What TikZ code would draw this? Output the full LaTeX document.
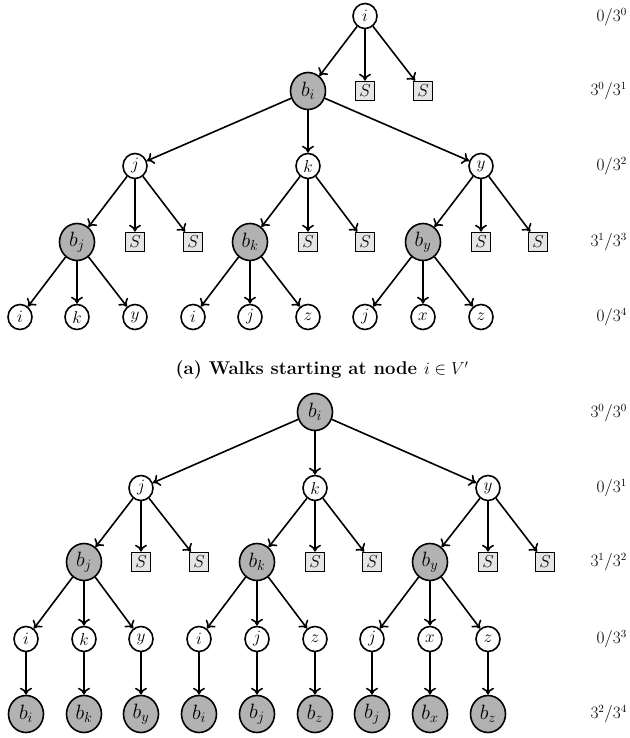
\documentclass[tikz,border=0pt]{standalone}
\usetikzlibrary{shapes.geometric,arrows.meta}
\begin{document}
\begin{tikzpicture}[x=1pt,y=-1pt,
  wn/.style={ellipse,draw,line width=1.6pt,fill=white,minimum width=24pt,minimum height=25pt,inner sep=0pt,font=\fontsize{17}{17}\selectfont},
  gn/.style={ellipse,draw,line width=1.6pt,fill=black!30,minimum width=35pt,minimum height=37pt,inner sep=0pt,font=\fontsize{20}{20}\selectfont},
  sn/.style={rectangle,draw,line width=1.6pt,fill=black!10,minimum size=19pt,inner sep=0pt,font=\fontsize{17}{17}\selectfont},
  lab/.style={anchor=east,inner sep=0pt,font=\fontsize{16}{16}\selectfont},
  arr/.style={line width=1.6pt,-{Computer Modern Rightarrow[length=7pt,width=12pt]}}]
\useasboundingbox (0,0) rectangle (629,738);
% ---------- tree (a) ----------
\node[wn] (ai) at (365,16) {$i$};
\node[gn] (abi) at (308,91) {$b_i$};
\node[sn] (aS1) at (365,91) {$S$};
\node[sn] (aS2) at (423,91) {$S$};
\node[wn] (aj) at (135,166) {$j$};
\node[wn] (ak) at (308,166) {$k$};
\node[wn] (ay) at (481,166) {$y$};
\node[gn] (abj) at (77,242) {$b_j$};
\node[sn] (aSj1) at (135,242) {$S$};
\node[sn] (aSj2) at (193,242) {$S$};
\node[gn] (abk) at (250,242) {$b_k$};
\node[sn] (aSk1) at (308,242) {$S$};
\node[sn] (aSk2) at (365,242) {$S$};
\node[gn] (aby) at (423,242) {$b_y$};
\node[sn] (aSy1) at (481,242) {$S$};
\node[sn] (aSy2) at (538,242) {$S$};
\node[wn] (al1) at (20,317) {$i$};
\node[wn] (al2) at (77,317) {$k$};
\node[wn] (al3) at (135,317) {$y$};
\node[wn] (al4) at (193,317) {$i$};
\node[wn] (al5) at (250,317) {$j$};
\node[wn] (al6) at (308,317) {$z$};
\node[wn] (al7) at (365,317) {$j$};
\node[wn] (al8) at (423,317) {$x$};
\node[wn] (al9) at (481,317) {$z$};
\foreach \a/\b in {ai/abi,ai/aS1,ai/aS2,abi/aj,abi/ak,abi/ay,
  aj/abj,aj/aSj1,aj/aSj2,ak/abk,ak/aSk1,ak/aSk2,ay/aby,ay/aSy1,ay/aSy2,
  abj/al1,abj/al2,abj/al3,abk/al4,abk/al5,abk/al6,aby/al7,aby/al8,aby/al9}
  \draw[arr] (\a) -- (\b);
\node[lab] (la0) at (627,17) {$0/3^0$};
\node[lab] (la1) at (627,91) {$3^0/3^1$};
\node[lab] (la2) at (627,166) {$0/3^2$};
\node[lab] (la3) at (627,242) {$3^1/3^3$};
\node[lab] (la4) at (627,317) {$0/3^4$};
\node[font=\fontsize{18.5}{18.5}\selectfont\bfseries] (cap) at (322,370) {(a) Walks starting at node $i\in V'$};
% ---------- tree (b) ----------
\node[gn] (bbi) at (315,412) {$b_i$};
\node[wn] (bj) at (141,488) {$j$};
\node[wn] (bk) at (315,488) {$k$};
\node[wn] (by) at (488,488) {$y$};
\node[gn] (bbj) at (84,562) {$b_j$};
\node[sn] (bSj1) at (141,562) {$S$};
\node[sn] (bSj2) at (199,562) {$S$};
\node[gn] (bbk) at (257,562) {$b_k$};
\node[sn] (bSk1) at (315,562) {$S$};
\node[sn] (bSk2) at (372,562) {$S$};
\node[gn] (bby) at (430,562) {$b_y$};
\node[sn] (bSy1) at (488,562) {$S$};
\node[sn] (bSy2) at (545,562) {$S$};
\node[wn] (bl1) at (26,639) {$i$};
\node[wn] (bl2) at (84,639) {$k$};
\node[wn] (bl3) at (141,639) {$y$};
\node[wn] (bl4) at (199,639) {$i$};
\node[wn] (bl5) at (257,639) {$j$};
\node[wn] (bl6) at (315,639) {$z$};
\node[wn] (bl7) at (372,639) {$j$};
\node[wn] (bl8) at (430,639) {$x$};
\node[wn] (bl9) at (488,639) {$z$};
\node[gn] (bg1) at (26,714) {$b_i$};
\node[gn] (bg2) at (84,714) {$b_k$};
\node[gn] (bg3) at (141,714) {$b_y$};
\node[gn] (bg4) at (199,714) {$b_i$};
\node[gn] (bg5) at (257,714) {$b_j$};
\node[gn] (bg6) at (315,714) {$b_z$};
\node[gn] (bg7) at (372,714) {$b_j$};
\node[gn] (bg8) at (430,714) {$b_x$};
\node[gn] (bg9) at (488,714) {$b_z$};
\foreach \a/\b in {bbi/bj,bbi/bk,bbi/by,
  bj/bbj,bj/bSj1,bj/bSj2,bk/bbk,bk/bSk1,bk/bSk2,by/bby,by/bSy1,by/bSy2,
  bbj/bl1,bbj/bl2,bbj/bl3,bbk/bl4,bbk/bl5,bbk/bl6,bby/bl7,bby/bl8,bby/bl9,
  bl1/bg1,bl2/bg2,bl3/bg3,bl4/bg4,bl5/bg5,bl6/bg6,bl7/bg7,bl8/bg8,bl9/bg9}
  \draw[arr] (\a) -- (\b);
\node[lab] (lb0) at (627,413) {$3^0/3^0$};
\node[lab] (lb1) at (627,488) {$0/3^1$};
\node[lab] (lb2) at (627,562) {$3^1/3^2$};
\node[lab] (lb3) at (627,639) {$0/3^3$};
\node[lab] (lb4) at (627,714) {$3^2/3^4$};
\end{tikzpicture}
\end{document}
